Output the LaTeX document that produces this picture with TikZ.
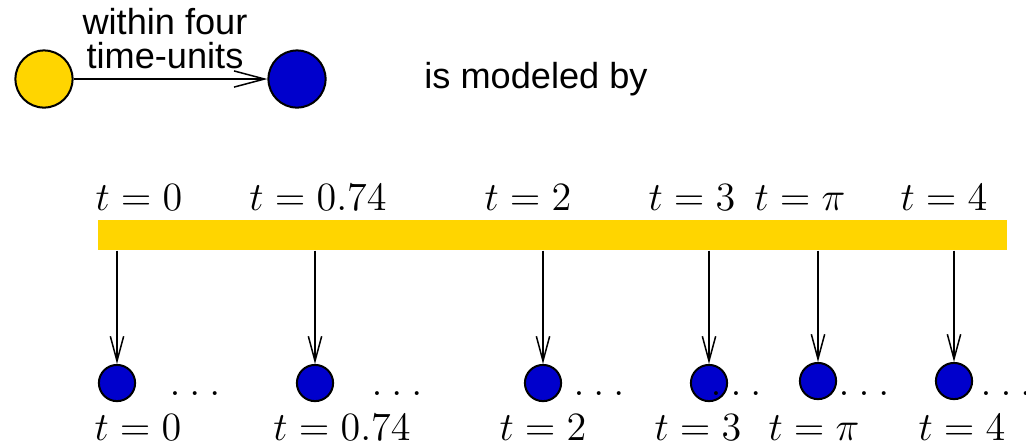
\documentclass[tikz,border=0pt]{standalone}
\usepackage{fontspec}
\setsansfont{Liberation Sans}
\usetikzlibrary{arrows.meta}
\definecolor{stateYellow}{RGB}{255,213,0}
\definecolor{stateBlue}{RGB}{0,0,204}

\begin{document}
\begin{tikzpicture}[x=0.0105cm, y=-0.0105cm,
        every node/.style={font=\large, align=center},
        txt/.style={font=\fontsize{10.8}{9.9}\selectfont\sffamily},
        bigstate/.style={circle, draw, line width=0.6pt, minimum size=0.6cm, inner sep=0pt},
        smallstate/.style={circle, draw, line width=0.6pt, fill=stateBlue, minimum size=0.38cm, inner sep=0pt},
        tick/.style={-{Straight Barb[length=0.26cm, width=0.14cm]}, line width=0.45pt}]
    \useasboundingbox (0,0) rectangle (1026,443);
    % requirement
    \node[bigstate, fill=stateYellow] (src) at (44,79) {};
    \node[bigstate, fill=stateBlue] (dst) at (297,79) {};
    \draw[-{Straight Barb[length=0.32cm, width=0.17cm]}, line width=0.45pt] (src) -- (dst);
    \node[txt] (within) at (165,38.5) {within four\\time-units};
    \node[txt, anchor=base] (modeled) at (536,88) {is modeled by};
    % time line
    \node[fill=stateYellow, minimum width=9.545cm, minimum height=0.315cm, inner sep=0pt] (bar) at (552.5,235) {};
    \node[anchor=base] (topA) at (139,210) {$t=0$};
    \node[anchor=base] (topB) at (318,210) {$t=0.74$};
    \node[anchor=base] (topC) at (528,210) {$t=2$};
    \node[anchor=base] (topD) at (692,210) {$t=3$};
    \node[anchor=base] (topE) at (800,210) {$t=\pi$};
    \node[anchor=base] (topF) at (944,210) {$t=4$};
    % sampled states
    \node[smallstate] (sA) at (117,383) {};
    \node[smallstate] (sB) at (315,383) {};
    \node[smallstate] (sC) at (543,383) {};
    \node[smallstate] (sD) at (709,383) {};
    \node[smallstate] (sE) at (818,381) {};
    \node[smallstate] (sF) at (954,381) {};
    \draw[tick] (bar.south -| sA.north) -- (sA.north);
    \draw[tick] (bar.south -| sB.north) -- (sB.north);
    \draw[tick] (bar.south -| sC.north) -- (sC.north);
    \draw[tick] (bar.south -| sD.north) -- (sD.north);
    \draw[tick] (bar.south -| sE.north) -- (sE.north);
    \draw[tick] (bar.south -| sF.north) -- (sF.north);
    \node[anchor=base] (dotsA) at (195,395) {$.\:.\:.$};
    \node[anchor=base] (dotsB) at (397,395) {$.\:.\:.$};
    \node[anchor=base] (dotsC) at (599,395) {$.\:.\:.$};
    \node[anchor=base] (dotsD) at (736,395) {$.\:.\:.$};
    \node[anchor=base] (dotsE) at (864,395) {$.\:.\:.$};
    \node[anchor=base] (dotsF) at (1006,395) {$.\:.\:.$};
    \node[anchor=base] (botA) at (138,440) {$t=0$};
    \node[anchor=base] (botB) at (342,440) {$t=0.74$};
    \node[anchor=base] (botC) at (543,440) {$t=2$};
    \node[anchor=base] (botD) at (698,440) {$t=3$};
    \node[anchor=base] (botE) at (814,440) {$t=\pi$};
    \node[anchor=base] (botF) at (962,440) {$t=4$};
\end{tikzpicture}
\end{document}
